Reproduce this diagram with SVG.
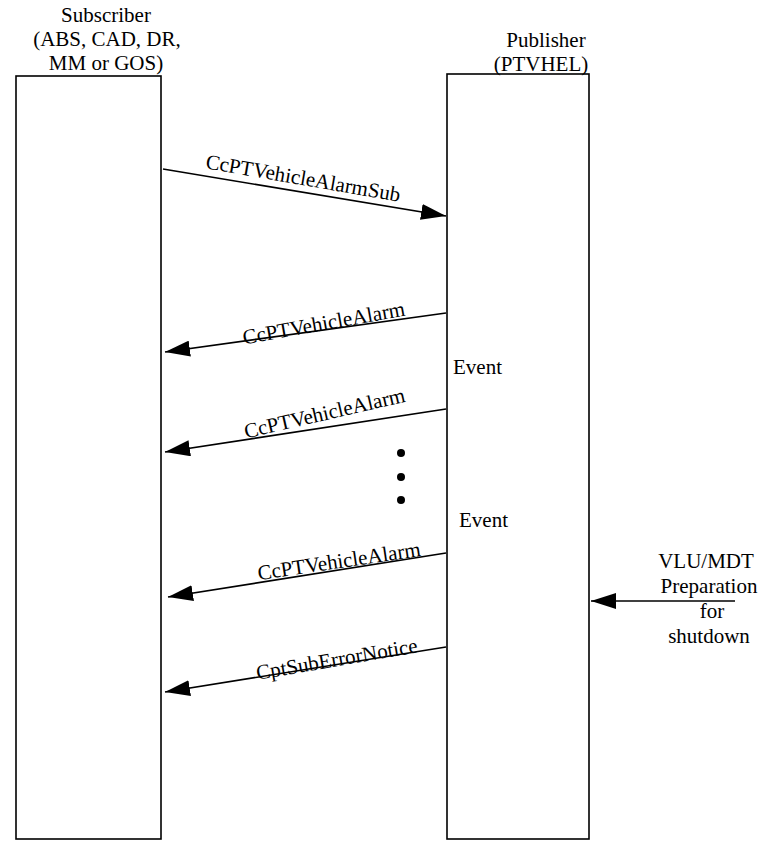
<svg xmlns="http://www.w3.org/2000/svg" width="769" height="841" viewBox="0 0 769 841">
  <style>
    .lane { fill: #ffffff; stroke: #000000; stroke-width: 1.6; }
    .msg { fill: none; stroke: #000000; stroke-width: 1.6; marker-end: url(#head); }
    text { font-size: 21px; fill: #000000; }
    .c { text-anchor: middle; }
  </style>
  <defs>
    <marker id="head" viewBox="0 0 25 16" refX="25" refY="8" markerWidth="25" markerHeight="16" markerUnits="userSpaceOnUse" orient="auto">
      <path d="M0,0 L25,8 L0,16 Z" fill="#000000"/>
    </marker>
  </defs>
  <rect width="769" height="841" fill="#ffffff"/>

  <g font-family="'Liberation Serif', 'DejaVu Serif', serif">
    <!-- Subscriber lifeline -->
    <g id="subscriber">
      <rect class="lane" x="16" y="76" width="145" height="763"/>
      <text class="c" x="106" y="22">Subscriber</text>
      <text class="c" x="107" y="46">(ABS, CAD, DR,</text>
      <text class="c" x="106" y="70">MM or GOS)</text>
    </g>

    <!-- Publisher lifeline -->
    <g id="publisher">
      <rect class="lane" x="447" y="74" width="142" height="765"/>
      <text class="c" x="546" y="47">Publisher</text>
      <text class="c" x="541" y="71">(PTVHEL)</text>
      <text x="453" y="374">Event</text>
      <text x="459" y="527">Event</text>
    </g>

    <!-- external trigger -->
    <g id="shutdown">
      <text class="c" x="706" y="568">VLU/MDT</text>
      <text class="c" x="709" y="593">Preparation</text>
      <text class="c" x="712" y="618">for</text>
      <text class="c" x="709" y="643">shutdown</text>
    </g>

    <!-- continuation dots -->
    <g id="ellipsis" fill="#000000">
      <circle cx="401" cy="453" r="4"/>
      <circle cx="401" cy="477" r="4"/>
      <circle cx="401" cy="500" r="4"/>
    </g>

    <!-- messages -->
    <g id="connectors">
      <line class="msg" x1="163" y1="169" x2="446" y2="216"/>
      <line class="msg" x1="446" y1="313" x2="165" y2="352"/>
      <line class="msg" x1="446" y1="409" x2="165" y2="452"/>
      <line class="msg" x1="446" y1="553" x2="168" y2="597"/>
      <line class="msg" x1="446" y1="647" x2="165" y2="692"/>
      <line class="msg" x1="735" y1="601" x2="591" y2="601"/>

      <text class="c" transform="translate(302,185) rotate(9.8)">CcPTVehicleAlarmSub</text>
      <text class="c" transform="translate(325,330) rotate(-10.2)">CcPTVehicleAlarm</text>
      <text class="c" transform="translate(326,420) rotate(-13)">CcPTVehicleAlarm</text>
      <text class="c" transform="translate(340,568) rotate(-8.5)">CcPTVehicleAlarm</text>
      <text class="c" transform="translate(338,666) rotate(-9.7)">CptSubErrorNotice</text>
    </g>
  </g>
</svg>
